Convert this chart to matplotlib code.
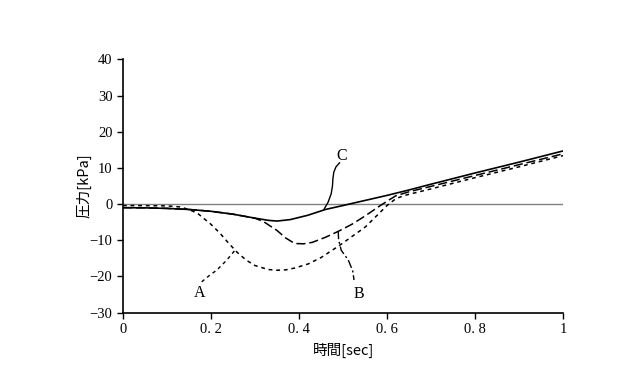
import matplotlib
matplotlib.use("Agg")
from matplotlib import pyplot as plt

# pressure traces (time in sec, pressure in kPa)
tC = [0, 0.05, 0.1, 0.15, 0.2, 0.25, 0.3, 0.33, 0.35, 0.38, 0.42, 0.46, 0.5,
      0.55, 0.6, 0.65, 0.7, 0.8, 0.9, 1.0]
pC = [-1.0, -1.05, -1.2, -1.5, -2.0, -2.8, -3.9, -4.5, -4.7, -4.3, -3.1, -1.5,
      -0.4, 1.0, 2.4, 3.9, 5.5, 8.6, 11.6, 14.7]

tB = [0, 0.05, 0.1, 0.15, 0.2, 0.25, 0.3, 0.32, 0.35, 0.37, 0.39, 0.41, 0.43,
      0.46, 0.49, 0.52, 0.55, 0.58, 0.6, 0.62, 0.65, 0.7, 0.8, 0.9, 1.0]
pB = [-1.0, -1.05, -1.2, -1.5, -2.0, -2.8, -3.9, -4.9, -7.3, -9.4, -10.9,
      -11.0, -10.6, -9.2, -7.5, -5.6, -3.3, -0.8, 0.8, 2.3, 3.4, 4.9, 7.9,
      10.9, 13.9]

tA = [0, 0.05, 0.1, 0.13, 0.15, 0.17, 0.2, 0.22, 0.24, 0.26, 0.28, 0.3, 0.33,
      0.35, 0.37, 0.39, 0.42, 0.45, 0.49, 0.52, 0.55, 0.58, 0.6, 0.62, 0.64,
      0.7, 0.8, 0.9, 1.0]
pA = [-0.4, -0.45, -0.5, -0.8, -1.5, -2.6, -5.6, -8.0, -10.8, -13.4, -15.5,
      -17.0, -18.1, -18.3, -18.2, -17.7, -16.6, -14.8, -11.6, -9.0, -6.4,
      -2.8, -0.4, 1.5, 2.4, 4.2, 7.3, 10.3, 13.4]

# leader lines for the labels
leadA_x = [0.179, 0.198, 0.213, 0.236, 0.255]
leadA_y = [-21.5, -19.6, -18.3, -15.5, -12.7]
leadB_x = [0.489, 0.490, 0.496, 0.512, 0.522, 0.525]
leadB_y = [-7.4, -10.0, -12.8, -15.5, -18.5, -21.0]
leadC_x = [0.457, 0.466, 0.473, 0.476, 0.477, 0.479, 0.484, 0.492]
leadC_y = [-1.4, 0.5, 2.8, 5.0, 7.0, 8.8, 10.3, 11.4]

xticks = [0, 0.2, 0.4, 0.6, 0.8, 1]
xticklabels = ['0', '0. 2', '0. 4', '0. 6', '0. 8', '1']
yticks = [-30, -20, -10, 0, 10, 20, 30, 40]

serif = ['Liberation Serif', 'DejaVu Serif']
jp = ['Noto Sans CJK JP', 'DejaVu Sans']

fig = plt.figure(figsize=(6.4, 3.69), dpi=100)
ax = fig.add_axes([0.192, 0.153, 0.688, 0.686])

ax.axhline(0, color='#808080', lw=1.0, zorder=1)
ax.plot(tA, pA, color='black', lw=1.1, ls=(0, (2.5, 2.5)))
ax.plot(tB, pB, color='black', lw=1.1, ls=(0, (6, 2.5)))
ax.plot(tC, pC, color='black', lw=1.2, ls='-')

ax.plot(leadA_x, leadA_y, color='black', lw=1.0, ls=(0, (2.5, 2.5)))
ax.plot(leadB_x, leadB_y, color='black', lw=1.0, ls=(0, (6, 2, 1.5, 2)))
ax.plot(leadC_x, leadC_y, color='black', lw=1.0)

ax.text(0.174, -24.6, 'A', fontsize=11.5, family=serif, ha='center', va='center')
ax.text(0.535, -24.8, 'B', fontsize=11.5, family=serif, ha='center', va='center')
ax.text(0.498, 13.3, 'C', fontsize=11.5, family=serif, ha='center', va='center')

ax.set_xlim(0, 1)
ax.set_ylim(-30, 40)
ax.set_xticks(xticks)
ax.set_xticklabels(xticklabels, family=serif, fontsize=10.5)
ax.set_yticks(yticks)
ax.set_yticklabels([str(v).replace('-', '\u2212') for v in yticks], family=serif, fontsize=10.5)
ax.tick_params(direction='out', length=4, width=1.0, color='black')

for s in ['top', 'right']:
    ax.spines[s].set_visible(False)
for s in ['left', 'bottom']:
    ax.spines[s].set_linewidth(1.2)

ax.set_xlabel('時間[sec]', family=jp, fontsize=10.5, labelpad=5)
ax.set_ylabel('圧力[kPa]', family=jp, fontsize=10.5, labelpad=-1)

plt.savefig('out.png', dpi=100)
